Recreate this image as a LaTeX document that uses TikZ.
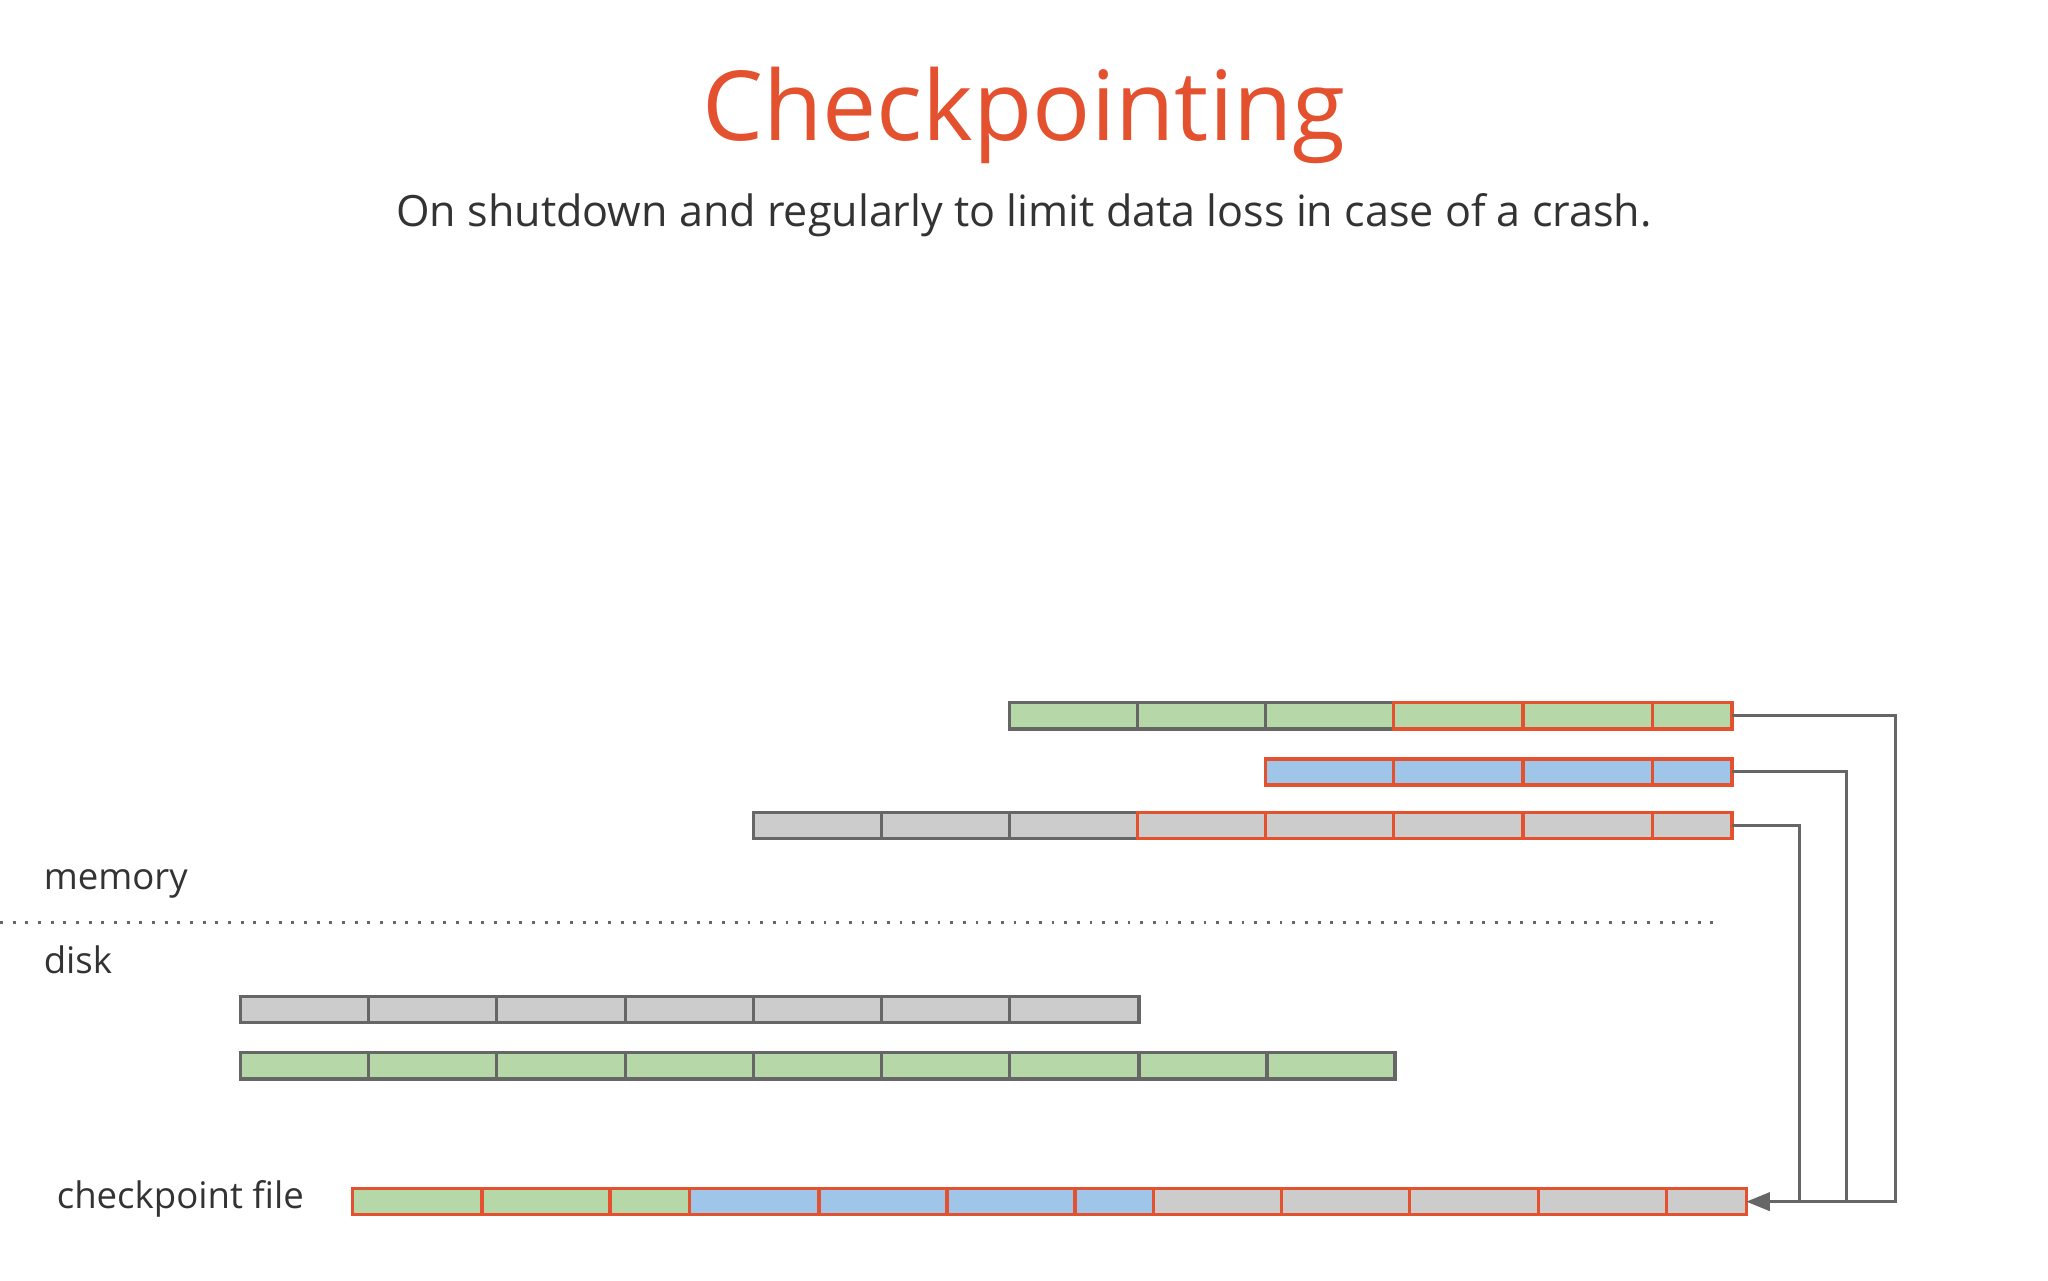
\documentclass[tikz,border=0pt]{standalone}
\usepackage{fontspec}
\setmainfont{Open Sans}
\usetikzlibrary{arrows.meta}
\definecolor{cgreen}{HTML}{B6D7A8}
\definecolor{cblue}{HTML}{9FC5E8}
\definecolor{cgray}{HTML}{CCCCCC}
\definecolor{cedge}{HTML}{666666}
\definecolor{corange}{HTML}{E4512F}
\definecolor{ctext}{HTML}{333333}
\tikzset{cellline/.style={line width=2.6pt},
  conn/.style={draw=cedge,line width=2.2pt},
  lbl/.style={anchor=west,text=ctext,font=\fontsize{28}{32}\selectfont}}
% \cells{fill}{edge}{y}{list of x}
\newcommand{\mycells}[4]{%
  \foreach \a/\b in {#4} {\draw[cellline,fill=#1,draw=#2] (\a,#3) rectangle (\b,#3+20);}}
\begin{document}
\begin{tikzpicture}[x=1pt,y=-1pt]
\useasboundingbox[fill=white] (0,0) rectangle (1568,980);
\node[text=corange,font=\fontsize{74}{80}\selectfont] (title) at (784,88) {Checkpointing};
\node[text=ctext,font=\fontsize{33}{38}\selectfont] (sub) at (784,165) {On shutdown and regularly to limit data loss in case of a crash.};
% memory rows
\mycells{cgreen}{cedge}{538}{773/871,871/969,969/1067}
\mycells{cgreen}{corange}{538}{1067/1166,1166/1265,1265/1326}
\mycells{cblue}{corange}{581}{969/1067,1067/1166,1166/1265,1265/1326}
\mycells{cgray}{cedge}{622}{577/675,675/773,773/871}
\mycells{cgray}{corange}{622}{871/969,969/1067,1067/1166,1166/1265,1265/1326}
% disk rows
\mycells{cgray}{cedge}{763}{184/282,282/380,380/479,479/577,577/675,675/773,773/872}
\mycells{cgreen}{cedge}{806}{184/282,282/380,380/479,479/577,577/675,675/773,773/872,872/970,970/1068}
% checkpoint
\mycells{cgreen}{corange}{910}{270/369,369/467,467/528}
\mycells{cblue}{corange}{910}{528/627,627/725,725/823,823/883}
\mycells{cgray}{corange}{910}{883/981,981/1079,1079/1178,1178/1276,1276/1337}
% labels
\node[lbl] (mem) at (30,677) {memory};
\node[lbl] (disk) at (30,735) {disk};
\node[lbl] (cpf) at (40,918) {checkpoint file};
\draw[cedge,line width=2.2pt,dotted,dash pattern=on 2.2pt off 7.5pt] (0,706) -- (1312,706);
% connectors
\coordinate (r1) at (1326,548);
\coordinate (r2) at (1326,591);
\coordinate (r3) at (1326,632);
\coordinate (cp) at (1337,920);
\draw[conn] (r1) -- (1451,548) -- (1451,920) -- (1414,920);
\draw[conn] (r2) -- (1414,591) -- (1414,920) -- (1378,920);
\draw[conn,-{Triangle[length=18pt,width=14pt]}] (r3) -- (1378,632) -- (1378,920) -- (cp);
\end{tikzpicture}
\end{document}
